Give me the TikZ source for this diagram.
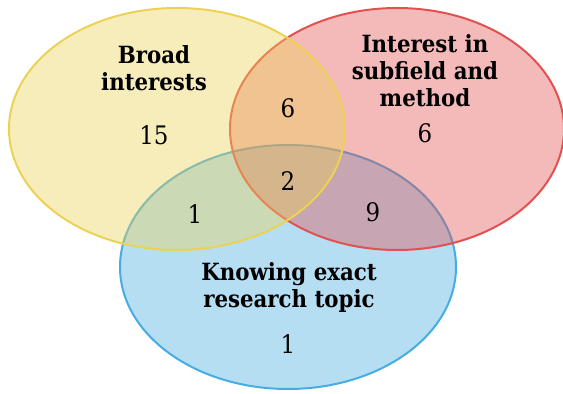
\documentclass[tikz,border=0pt]{standalone}
\usepackage{fontspec}
\setmainfont{DejaVu Serif Condensed}
\definecolor{broadyellow}{RGB}{235,210,85}
\definecolor{subfieldred}{RGB}{227,80,80}
\definecolor{topicblue}{RGB}{70,172,225}
\newcommand{\vennset}[3]{\draw[draw=#1,fill=#1,fill opacity=0.4] (#2) ellipse (#3);}

\begin{document}
\begin{tikzpicture}[x=1pt,y=1pt,line width=2pt,
    title/.style={align=center,font=\bfseries\fontsize{23.7}{27}\selectfont},
    count/.style={font=\fontsize{25.5}{28}\selectfont}]
      \useasboundingbox (0,0) rectangle (563,394);
      \vennset{topicblue}{288,127}{168 and 122}
      \vennset{subfieldred}{397,265}{167 and 121}
      \vennset{broadyellow}{177,265}{168 and 121}
      \node[title] (broad) at (154,325.5) {Broad\\interests};
      \node[title] (subfield) at (425,323) {Interest in\\subfield and\\method};
      \node[title] (topic) at (289,107) {Knowing exact\\research topic};
      \node[count] (nbroad) at (154,259) {15};
      \node[count] (nsubfield) at (425,261) {6};
      \node[count] (ntopic) at (288,50) {1};
      \node[count] (nbroadsub) at (288,286) {6};
      \node[count] (nall) at (288,213) {2};
      \node[count] (nbroadtopic) at (195,180) {1};
      \node[count] (nsubtopic) at (373,182) {9};
    \end{tikzpicture}
\end{document}
